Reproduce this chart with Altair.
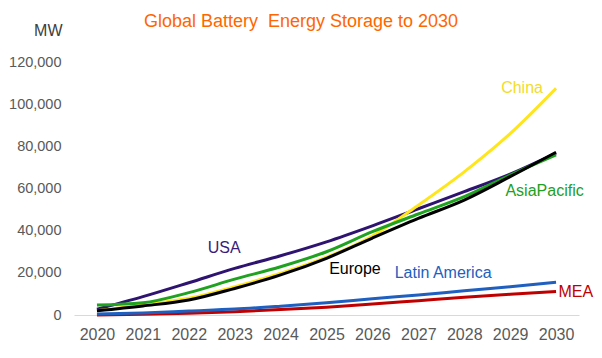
import altair as alt
import pandas as pd

years = list(range(2020, 2031))

series_names = ["MEA", "Latin America", "USA", "China", "AsiaPacific", "Europe"]
series_colors = ["#C00000", "#1F5FBF", "#2E1470", "#FFE61A", "#1FA21F", "#000000"]

mea = [0, 300, 800, 1600, 2600, 3700, 5200, 6800, 8400, 9800, 11100]
latin_america = [500, 1000, 1900, 2800, 4200, 5800, 7700, 9500, 11500, 13400, 15500]
usa = [2700, 8700, 15300, 22100, 28100, 34700, 42300, 50400, 58500, 66800, 76800]
china = [2000, 4800, 7900, 13400, 19800, 27400, 37500, 52100, 67900, 86000, 107500]
asia_pacific = [4700, 5800, 10600, 17000, 22900, 30000, 39500, 47900, 56100, 66400, 76000]
europe = [2000, 4300, 7100, 12600, 19000, 26900, 36500, 45800, 54500, 65600, 77200]

series_values = [mea, latin_america, usa, china, asia_pacific, europe]

# label annotations (position in data units)
label_text = ["China", "USA", "Europe", "Latin America", "MEA", "AsiaPacific"]
label_year = [2029.26, 2022.77, 2025.62, 2027.54, 2030.43, 2029.75]
label_value = [107600, 31800, 22000, 19900, 11100, 58800]
label_color = ["#F2DC2A", "#3A1C78", "#000000", "#2060C0", "#C00000", "#22A022"]

y_ticks = [0, 20000, 40000, 60000, 80000, 100000, 120000]

FONT = "Liberation Sans"
W, H = 505, 253

x_scale = alt.Scale(domain=[2019.5, 2030.5], nice=False, zero=False)
y_scale = alt.Scale(domain=[0, 120000], nice=False)

x_axis = alt.Axis(values=years, format="d", grid=False, ticks=False, tickSize=0,
                  labelFontSize=16, labelColor="#595959", labelFont=FONT,
                  labelPadding=11, domainColor="#D9D9D9", domainWidth=1,
                  title=None, labelFlush=False)
y_axis = alt.Axis(values=y_ticks, format=",.0f", grid=False, ticks=False, tickSize=0,
                  domain=False, labelFontSize=14.5, labelColor="#595959",
                  labelFont=FONT, labelPadding=13, title="MW", titleAngle=0,
                  titleX=-12, titleY=-27, titleAlign="right",
                  titleBaseline="alphabetic", titleFontSize=16,
                  titleFontWeight="normal", titleColor="#404040", titleFont=FONT)

X = alt.X("year:Q", scale=x_scale, axis=x_axis)
Y = alt.Y("value:Q", scale=y_scale, axis=y_axis)

layers = []
for name, col, vals in zip(series_names, series_colors, series_values):
    df = pd.DataFrame({"year": years, "value": vals, "series": name})
    layers.append(
        alt.Chart(df).mark_line(color=col, strokeWidth=3, interpolate="monotone").encode(x=X, y=Y)
    )

labels_df = pd.DataFrame({"text": label_text, "year": label_year,
                          "value": label_value, "color": label_color})
labels = alt.Chart(labels_df).mark_text(fontSize=16, font=FONT, align="center",
                                        baseline="middle").encode(
    x=X, y=Y,
    text="text:N",
    color=alt.Color("color:N", scale=None),
)

title = alt.Chart(pd.DataFrame({"t": ["Global Battery\u00a0 Energy Storage to 2030"]})).mark_text(
    fontSize=18, font=FONT, color="#FF6600", align="center", baseline="alphabetic"
).encode(x=alt.value(227), y=alt.value(-35), text="t:N")

chart = alt.layer(*layers, labels, title).properties(
    width=W, height=H,
    autosize=alt.AutoSizeParams(type="none"),
    padding={"left": 66, "top": 54, "right": 15, "bottom": 35},
).configure(background="white").configure_view(strokeWidth=0)

chart.save("out.html", embed_options={"renderer": "svg", "actions": False})
